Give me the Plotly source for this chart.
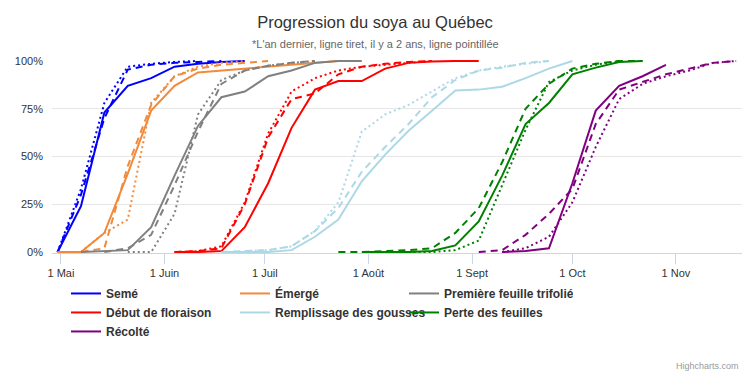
import plotly.graph_objects as go

# Weekly observation dates (same grid used for the three seasons)
dates = ["2024-04-30", "2024-05-07", "2024-05-14", "2024-05-21", "2024-05-28",
         "2024-06-04", "2024-06-11", "2024-06-18", "2024-06-25", "2024-07-02",
         "2024-07-09", "2024-07-16", "2024-07-23", "2024-07-30", "2024-08-06",
         "2024-08-13", "2024-08-20", "2024-08-27", "2024-09-03", "2024-09-10",
         "2024-09-17", "2024-09-24", "2024-10-01", "2024-10-08", "2024-10-15",
         "2024-10-22", "2024-10-29", "2024-11-05", "2024-11-12", "2024-11-19"]

tick_vals = ["2024-05-01", "2024-06-01", "2024-07-01", "2024-08-01",
             "2024-09-01", "2024-10-01", "2024-11-01"]
tick_text = ["1 Mai", "1 Juin", "1 Juil", "1 Août", "1 Sept", "1 Oct", "1 Nov"]

stages = ["Semé", "Émergé", "Première feuille trifolié", "Début de floraison",
          "Remplissage des gousses", "Perte des feuilles", "Récolté"]
colors = ["#0000FF", "#F28A3C", "#808080", "#FF0000", "#ADD8E6", "#008000", "#800080"]

# (start index in dates, values) — current year (solid), last year (dash), 2 years ago (dot)
seme_cur = (0, [0, 24, 73, 87, 91, 97, 98.5, 99.5, 100])
seme_last = (0, [0, 30, 70, 95.5, 98, 99, 99.5, 100])
seme_prev = (0, [0, 33, 78, 97, 98.5, 99.5, 100])

emerge_cur = (0, [0, 0, 10, 41, 74, 87, 94, 95, 96, 97, 98, 99, 100])
emerge_last = (0, [0, 0, 2, 45, 77, 92, 96, 98, 99, 100])
emerge_prev = (1, [0, 10, 17, 78, 92, 97, 99, 100])

trifol_cur = (1, [0, 0.5, 1, 13, 40, 66, 81, 84, 92, 95, 99, 100, 100])
trifol_last = (2, [0, 2, 9, 35, 63, 88, 95, 97.5, 99, 100])
trifol_prev = (3, [0, 0, 20, 72, 90, 95, 97.5, 99, 100])

flor_cur = (5, [0, 0, 0.5, 13, 36, 65, 85, 89.5, 89.5, 96, 99, 99.7, 100, 100])
flor_last = (5, [0, 0.5, 2, 25, 60, 80, 83, 93, 97, 98.5, 99.5, 100])
flor_prev = (5, [0, 0.5, 3, 26, 62, 84, 91, 95, 97, 98, 99, 100])

gousse_cur = (7, [0, 0, 0, 1, 8, 17, 37, 51, 63.5, 74, 84.5, 85, 86.5, 91, 96, 100])
gousse_last = (7, [0, 0.5, 1, 3, 11, 23, 42, 55, 67, 81, 90, 95, 96.5, 99, 100])
gousse_prev = (8, [0.5, 1, 3, 11, 26, 63, 72, 77, 84, 91, 95, 97, 98.5, 100])

perte_cur = (13, [0, 0, 0, 0.5, 3.5, 16, 40, 67, 78, 93, 96.5, 99.5, 100])
perte_last = (12, [0, 0, 0.5, 1, 2, 10, 23, 47, 75, 88, 96, 98.5, 100, 100])
perte_prev = (15, [0, 0, 1, 6, 35, 64, 89, 95, 98, 100])

recolte_cur = (19, [0, 0.5, 2, 36, 74, 87, 92, 98])
recolte_last = (18, [0, 1, 9, 20, 33, 67, 85, 89, 93, 96, 99, 100])
recolte_prev = (19, [0, 2, 8, 26, 55, 80, 88, 92, 95, 99, 100])

series = [
    (seme_cur, seme_last, seme_prev),
    (emerge_cur, emerge_last, emerge_prev),
    (trifol_cur, trifol_last, trifol_prev),
    (flor_cur, flor_last, flor_prev),
    (gousse_cur, gousse_last, gousse_prev),
    (perte_cur, perte_last, perte_prev),
    (recolte_cur, recolte_last, recolte_prev),
]

fig = go.Figure()
dash_styles = ["solid", "7px,5px", "2px,3px"]
for name, color, trio in zip(stages, colors, series):
    for j, (start, vals) in enumerate(trio):
        fig.add_trace(go.Scatter(
            x=dates[start:start + len(vals)], y=vals, mode="lines",
            name=name, legendgroup=name, showlegend=(j == 0),
            line=dict(color=color, width=2, dash=dash_styles[j]),
        ))

fig.update_layout(
    width=750, height=373,
    margin=dict(l=52, r=8, t=60, b=120),
    paper_bgcolor="white", plot_bgcolor="white",
    font=dict(family="Liberation Sans, Arial, sans-serif", color="#333333", size=11),
    title=dict(text="Progression du soya au Québec", x=0.5, xref="container",
               xanchor="center", y=1 - 22 / 373, yanchor="middle",
               font=dict(size=16.5, color="#333333")),
    showlegend=True,
    legend=dict(orientation="h", x=0.023, xanchor="left", y=-0.1345, yanchor="top",
                entrywidth=124, entrywidthmode="pixels", tracegroupgap=0,
                font=dict(size=12, color="#333333", weight="bold"),
                bgcolor="rgba(0,0,0,0)"),
    xaxis=dict(type="date", range=["2024-04-28 08:00", "2024-11-20 18:00"],
               tickmode="array", tickvals=tick_vals, ticktext=tick_text,
               showgrid=False, zeroline=False, showline=True, linecolor="#ccd6eb",
               linewidth=1, ticks="outside", ticklen=10, tickcolor="#ccd6eb",
               tickfont=dict(size=11, color="#333333")),
    yaxis=dict(range=[-0.5, 100.5], tickvals=[0, 25, 50, 75, 100],
               ticktext=["0%", "25%", "50%", "75%", "100%"],
               showgrid=True, gridcolor="#e6e6e6", gridwidth=1, zeroline=False,
               showline=False, ticks="", ticklabelstandoff=8,
               tickfont=dict(size=11, color="#333333")),
    annotations=[
        dict(text="*L'an dernier, ligne tiret, il y a 2 ans, ligne pointillée",
             xref="paper", yref="paper", x=(375 - 52) / 690, y=(253 - 44) / 193,
             xanchor="center", yanchor="middle", showarrow=False,
             font=dict(size=11, color="#666666")),
        dict(text="Highcharts.com", xref="paper", yref="paper",
             x=(741 - 52) / 690, y=(253 - 366) / 193, xanchor="right", yanchor="middle",
             showarrow=False, font=dict(size=9, color="#999999")),
    ],
)

fig.write_html("out.html", config={"displayModeBar": False},
               post_script="document.body.style.margin='0';document.body.style.overflow='hidden';")
